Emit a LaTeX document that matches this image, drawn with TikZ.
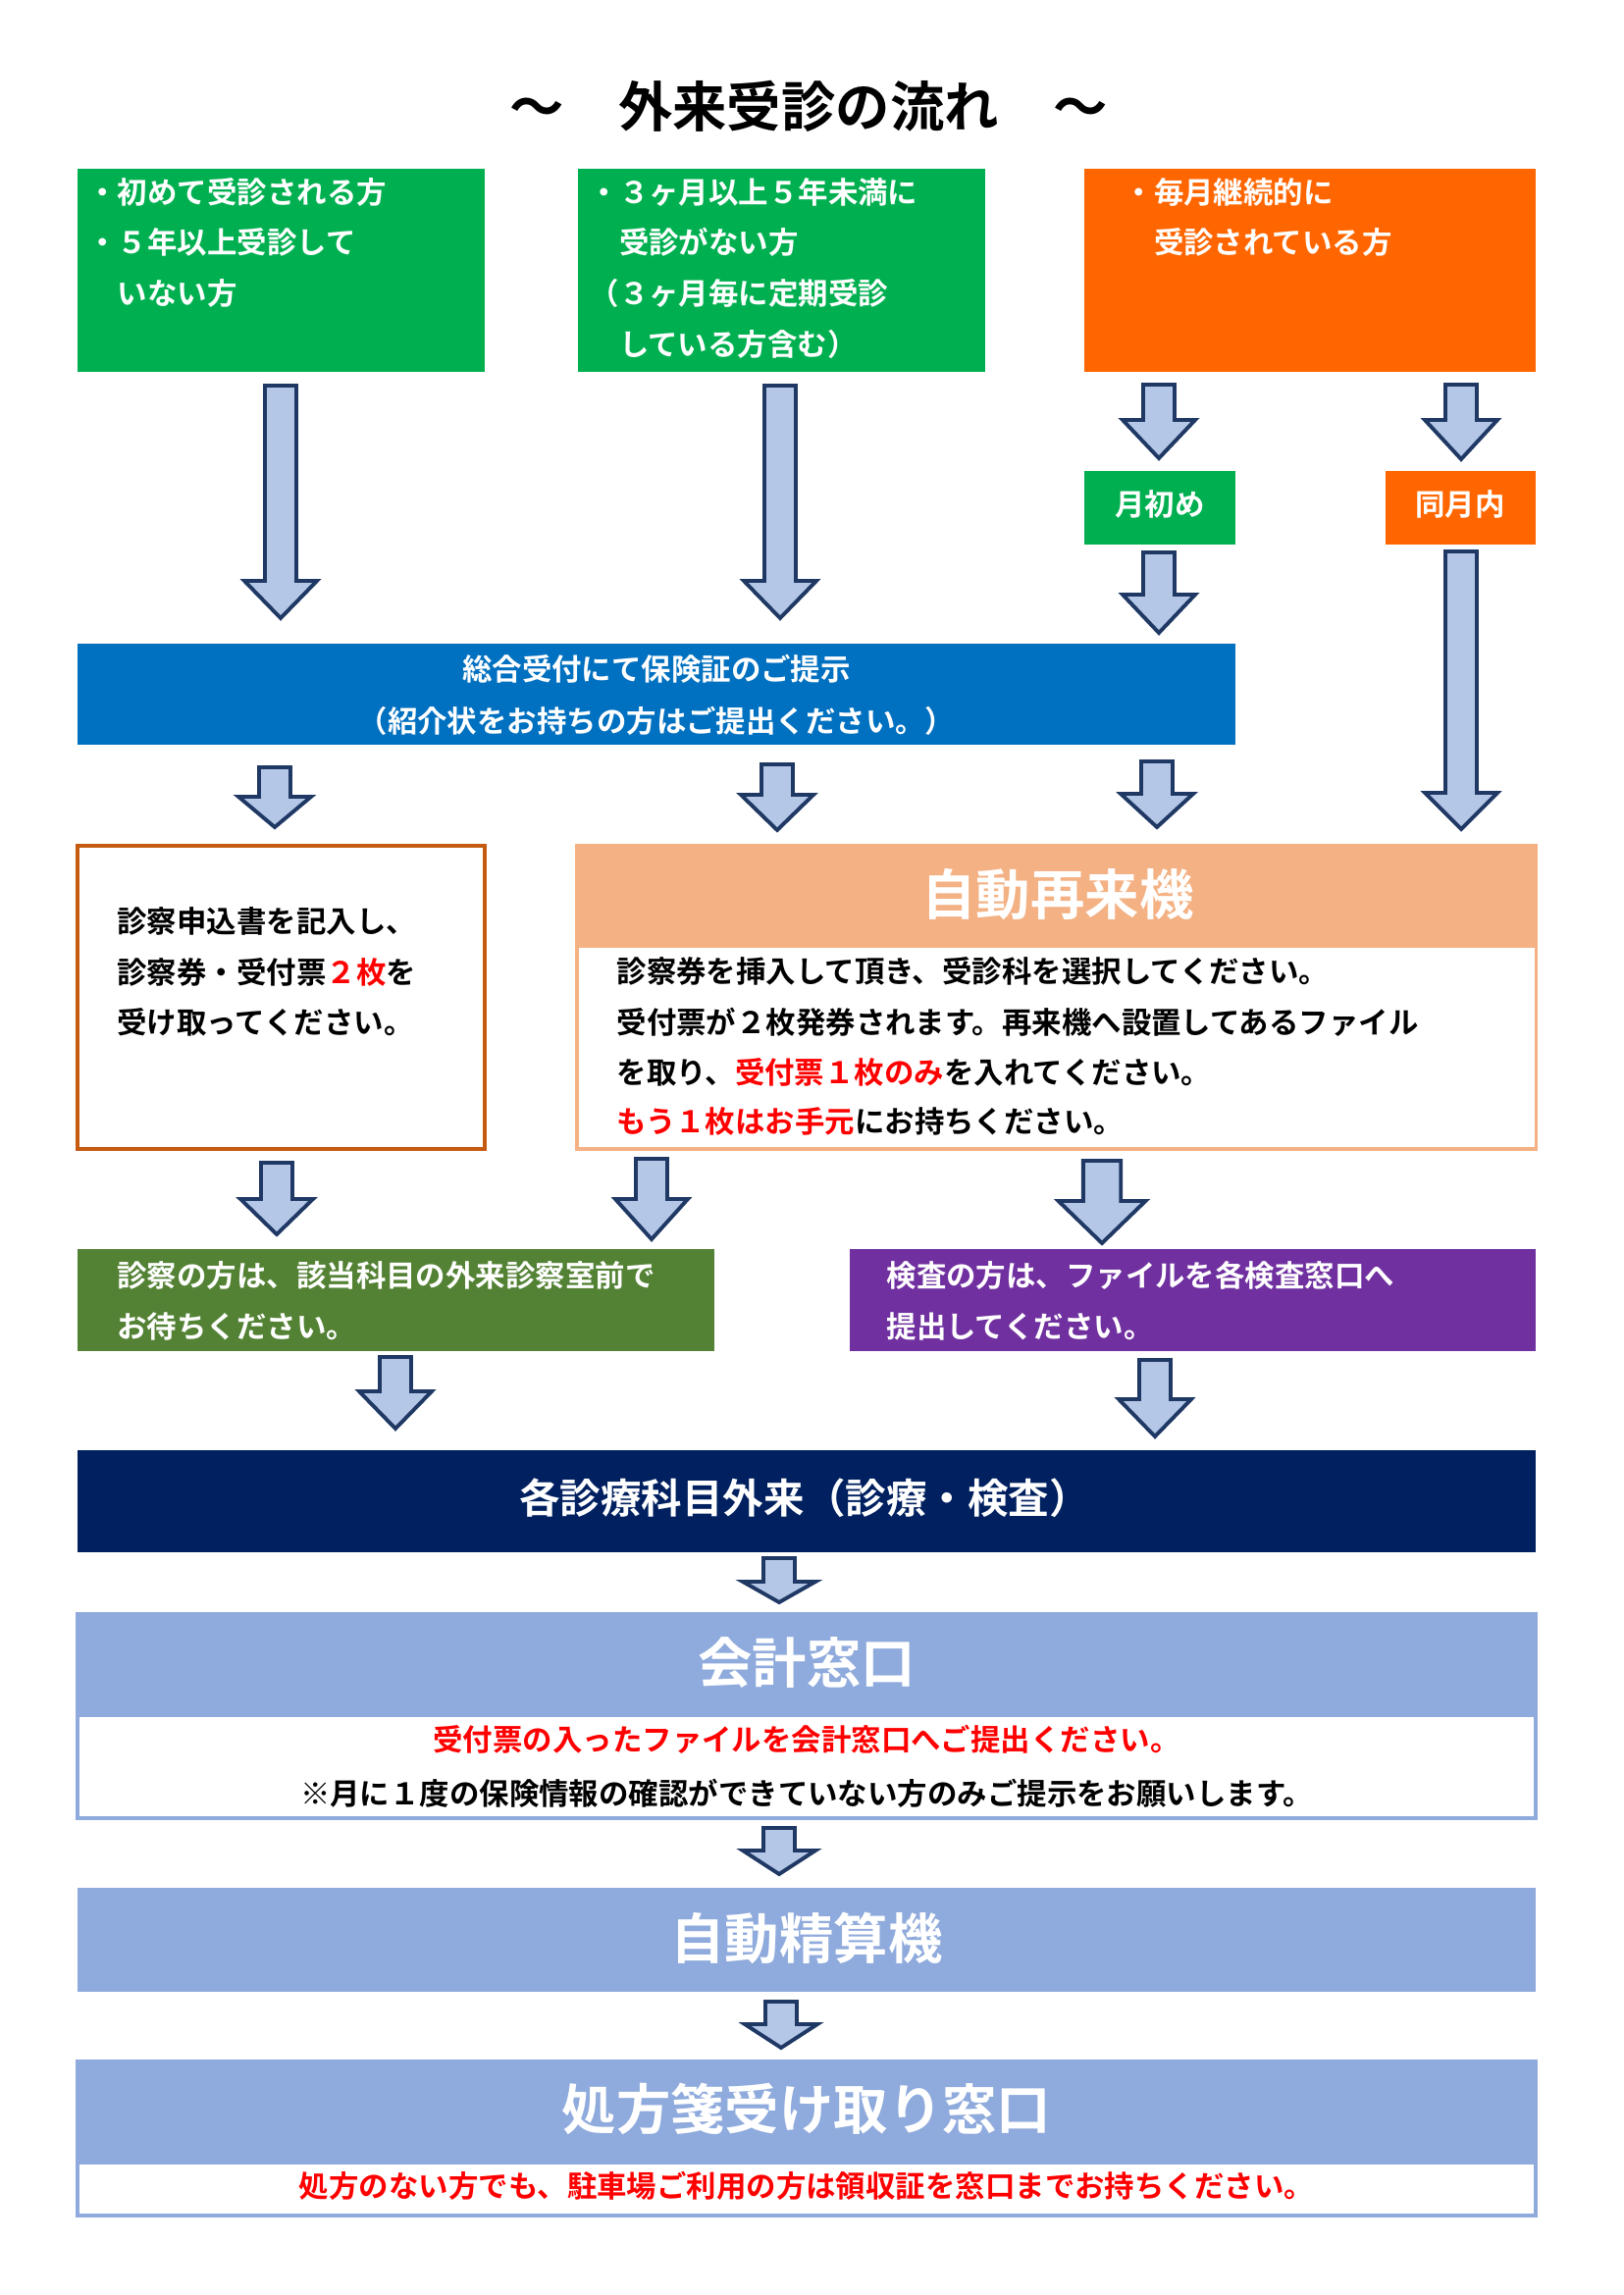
\documentclass[tikz,border=0pt]{standalone}
\usepackage{fontspec}
\setmainfont{Noto Sans CJK JP}[BoldFont={Noto Sans CJK JP Bold}]
\definecolor{cgreen}{HTML}{00B050}
\definecolor{corange}{HTML}{FF6600}
\definecolor{cblue}{HTML}{0070C0}
\definecolor{cbrown}{HTML}{C55A11}
\definecolor{cpeach}{HTML}{F4B183}
\definecolor{colive}{HTML}{548235}
\definecolor{cpurple}{HTML}{7030A0}
\definecolor{cnavy}{HTML}{002060}
\definecolor{clblue}{HTML}{8FAADC}
\definecolor{cafill}{HTML}{B4C7E7}
\definecolor{caline}{HTML}{1F3864}
\definecolor{cred}{HTML}{FF0000}
\newcommand\pxu{0.127mm}
% block arrow: x, ytop, yhead, ytip, width factor
\newcommand\blockarrow[5]{%
  \draw[barrowsty] ({#1-16*#5},#2) -- ({#1+16*#5},#2) -- ({#1+16*#5},#3) -- ({#1+37*#5},#3)
    -- (#1,#4) -- ({#1-37*#5},#3) -- ({#1-16*#5},#3) -- cycle;}
\tikzset{
  box/.style={rectangle, inner sep=0pt, outer sep=0pt, anchor=north west},
  barrowsty/.style={fill=cafill, draw=caline, line width=1.4pt, line join=miter},
  txt/.style={inner sep=0pt, anchor=base west, font=\bfseries\fontsize{11pt}{13pt}\selectfont},
  ctxt/.style={inner sep=0pt, anchor=base, font=\bfseries\fontsize{11pt}{13pt}\selectfont},
  big/.style={inner sep=0pt, anchor=base, text=white, font=\bfseries\fontsize{20pt}{24pt}\selectfont},
}
\begin{document}
\begin{tikzpicture}[x=0.127mm, y=-0.127mm]
\useasboundingbox (0,0) rectangle (1654,2339);

% title
\node[inner sep=0pt, anchor=base, font=\bfseries\fontsize{20pt}{24pt}\selectfont] (title) at (824,130) {～　外来受診の流れ　～};

% top boxes
\node[box, fill=cgreen, minimum width=415*\pxu, minimum height=207*\pxu] (boxA) at (79,172) {};
\node[txt, text=white] (a1) at (89,208) {・初めて受診される方};
\node[txt, text=white] (a2) at (89,259) {・５年以上受診して};
\node[txt, text=white] (a3) at (89,311) {　いない方};

\node[box, fill=cgreen, minimum width=415*\pxu, minimum height=207*\pxu] (boxB) at (589,172) {};
\node[txt, text=white] (b1) at (600,208) {・３ヶ月以上５年未満に};
\node[txt, text=white] (b2) at (600,259) {　受診がない方};
\node[txt, text=white] (b3) at (600,311) {（３ヶ月毎に定期受診};
\node[txt, text=white] (b4) at (600,363) {　している方含む）};

\node[box, fill=corange, minimum width=460*\pxu, minimum height=207*\pxu] (boxC) at (1105,172) {};
\node[txt, text=white] (c1) at (1145,208) {・毎月継続的に};
\node[txt, text=white] (c2) at (1145,259) {　受診されている方};

\node[box, fill=cgreen, minimum width=154*\pxu, minimum height=75*\pxu] (tsuki) at (1105,480) {};
\node[ctxt, text=white] (tsukit) at (1182,526) {月初め};
\node[box, fill=corange, minimum width=153*\pxu, minimum height=75*\pxu] (dou) at (1412,480) {};
\node[ctxt, text=white] (dout) at (1488,526) {同月内};

% reception
\node[box, fill=cblue, minimum width=1180*\pxu, minimum height=103*\pxu] (uke) at (79,656) {};
\node[ctxt, text=white] (uke1) at (669,694) {総合受付にて保険証のご提示};
\node[ctxt, text=white] (uke2) at (669,746) {（紹介状をお持ちの方はご提出ください。）};

% application box
\node[box, draw=cbrown, line width=1.1pt, fill=white, minimum width=415*\pxu, minimum height=309*\pxu] (mou) at (79,862) {};
\node[txt] (m1) at (119,950) {診察申込書を記入し、};
\node[txt] (m2) at (119,1002) {診察券・受付票\textcolor{cred}{２枚}を};
\node[txt] (m3) at (119,1053) {受け取ってください。};

% re-visit machine
\node[box, draw=cpeach, line width=1.1pt, fill=white, minimum width=977*\pxu, minimum height=309*\pxu] (kiki) at (588,862) {};
\node[box, fill=cpeach, minimum width=977*\pxu, minimum height=104*\pxu] (kikih) at (588,862) {};
\node[big] (kikit) at (1078,932) {自動再来機};
\node[txt] (k1) at (628,1001) {診察券を挿入して頂き、受診科を選択してください。};
\node[txt] (k2) at (628,1053) {受付票が２枚発券されます。再来機へ設置してあるファイル};
\node[txt] (k3) at (628,1104) {を取り、\textcolor{cred}{受付票１枚のみ}を入れてください。};
\node[txt] (k4) at (628,1154) {\textcolor{cred}{もう１枚はお手元}にお持ちください。};

% wait boxes
\node[box, fill=colive, minimum width=649*\pxu, minimum height=104*\pxu] (shin) at (79,1273) {};
\node[txt, text=white] (s1) at (119,1311) {診察の方は、該当科目の外来診察室前で};
\node[txt, text=white] (s2) at (119,1363) {お待ちください。};
\node[box, fill=cpurple, minimum width=699*\pxu, minimum height=104*\pxu] (ken) at (866,1273) {};
\node[txt, text=white] (e1) at (903,1311) {検査の方は、ファイルを各検査窓口へ};
\node[txt, text=white] (e2) at (903,1363) {提出してください。};

% outpatient
\node[box, fill=cnavy, minimum width=1486*\pxu, minimum height=104*\pxu] (gai) at (79,1478) {};
\node[inner sep=0pt, anchor=base, text=white, font=\bfseries\fontsize{15pt}{18pt}\selectfont] (gait) at (820,1542) {各診療科目外来（診療・検査）};

% cashier
\node[box, draw=clblue, line width=1.4pt, fill=white, minimum width=1486*\pxu, minimum height=208*\pxu] (kai) at (79,1645) {};
\node[box, fill=clblue, minimum width=1486*\pxu, minimum height=105*\pxu] (kaih) at (79,1645) {};
\node[big] (kait) at (822,1715) {会計窓口};
\node[ctxt, text=cred] (kai1) at (822,1784) {受付票の入ったファイルを会計窓口へご提出ください。};
\node[ctxt] (kai2) at (822,1839) {※月に１度の保険情報の確認ができていない方のみご提示をお願いします。};

% auto payment
\node[box, fill=clblue, minimum width=1486*\pxu, minimum height=106*\pxu] (sei) at (79,1924) {};
\node[big] (seit) at (822,1996) {自動精算機};

% prescription
\node[box, draw=clblue, line width=1.4pt, fill=white, minimum width=1486*\pxu, minimum height=157*\pxu] (sho) at (79,2101) {};
\node[box, fill=clblue, minimum width=1486*\pxu, minimum height=105*\pxu] (shoh) at (79,2101) {};
\node[big] (shot) at (822,2170) {処方箋受け取り窓口};
\node[ctxt, text=cred] (sho1) at (822,2239) {処方のない方でも、駐車場ご利用の方は領収証を窓口までお持ちください。};

% arrows
\blockarrow{286}{393}{592}{630}{1}
\blockarrow{795}{393}{592}{630}{1}
\blockarrow{1181}{392}{428}{467}{1}
\blockarrow{1489}{392}{428}{468}{1}
\blockarrow{1181}{563}{606}{645}{1}
\blockarrow{1489}{562}{808}{845}{1}
\blockarrow{280}{782}{812}{843}{1}
\blockarrow{792}{779}{810}{846}{1}
\blockarrow{1179}{776}{809}{843}{1}
\blockarrow{282}{1185}{1222}{1258}{1}
\blockarrow{664}{1181}{1222}{1263}{1}
\blockarrow{1123}{1183}{1224}{1267}{1.2}
\blockarrow{403}{1383}{1418}{1456}{1}
\blockarrow{1177}{1386}{1426}{1464}{1}
\blockarrow{794}{1588}{1612}{1633}{1}
\blockarrow{794}{1863}{1886}{1910}{1}
\blockarrow{796}{2040}{2063}{2087}{1}
\end{tikzpicture}
\end{document}
